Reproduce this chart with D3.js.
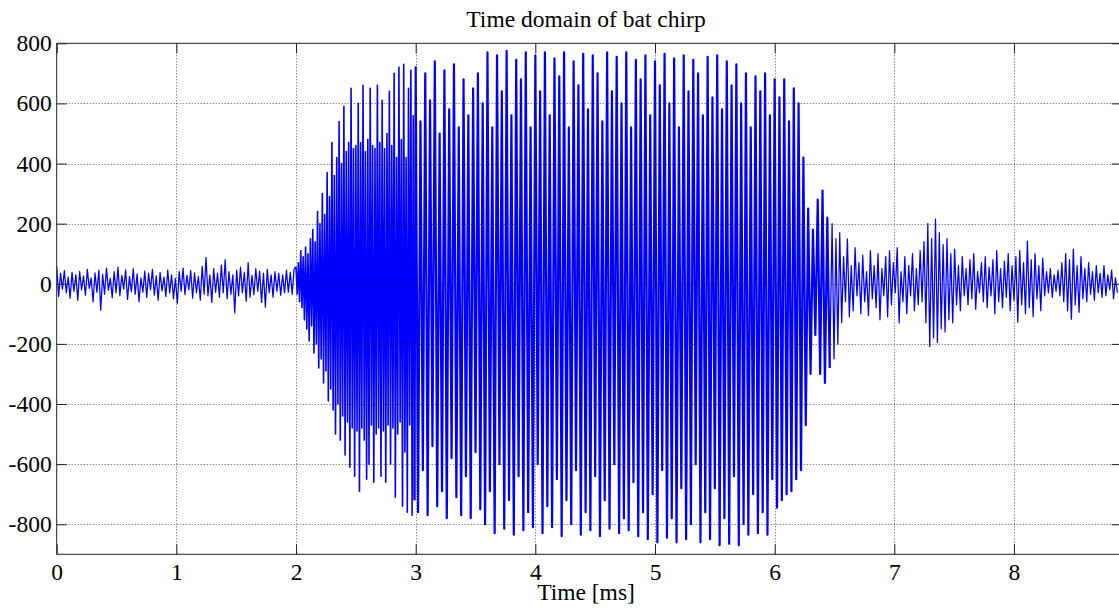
<!DOCTYPE html>
<html>
<head>
<meta charset="utf-8">
<script src="https://cdn.jsdelivr.net/npm/d3@7"></script>
<style>
  html, body { margin: 0; padding: 0; background: #fff; }
  svg { display: block; }
  text { font-family: "Liberation Serif", "Times New Roman", serif; fill: #000; }
</style>
</head>
<body>
<svg id="chart" width="1119" height="611"></svg>
<script>
// Recorded waveform, stored as alternating local maxima / minima per segment.
// Segment start time (ms) and spacing between successive extrema (ms).
const segmentStart = [0, 2.0, 3.0, 6.48];
const segmentStep  = [0.016, 0.01, 0.02, 0.016];

// 0 – 2 ms: background noise before the call
const leadNoise = [
  58,-42,35,-18,44,-30,22,-48,38,-25,
  30,-55,41,-20,26,-38,48,-15,20,-60,
  36,-28,45,-88,31,-35,52,-22,18,-46,
  40,-30,55,-40,28,-18,46,-52,24,-26,
  50,-35,33,-60,20,-28,42,-45,35,-20,
  48,-38,26,-55,38,-24,22,-42,45,-30,
  30,-50,18,-65,40,-25,52,-36,28,-20,
  44,-48,36,-30,25,-55,58,-35,88,-40,
  30,-62,50,-28,35,-45,62,-30,80,-50,
  40,-35,30,-97,45,-40,55,-30,38,-58,
  70,-45,28,-36,50,-25,42,-62,35,-78,
  48,-30,30,-45,40,-25,35,-38,30,-30,
  45,-28,38,-35,50
];

// 2 – 3 ms: onset of the chirp
const chirpOnset = [
  55,-35,70,-60,110,-80,90,-120,122,-150,
  100,-190,150,-140,180,-230,140,-200,240,-280,
  200,-250,300,-330,230,-290,370,-390,290,-350,
  470,-420,360,-500,420,-400,540,-520,400,-440,
  590,-570,440,-460,470,-610,650,-480,450,-640,
  460,-490,600,-690,470,-480,660,-520,440,-650,
  480,-600,650,-470,460,-660,450,-500,660,-480,
  470,-640,610,-490,450,-660,500,-470,640,-600,
  460,-480,700,-710,420,-500,720,-460,480,-740,
  730,-560,420,-760,650,-470,710,-770,560,-720
];

// 3 – 6.46 ms: body of the chirp and its cut-off
const chirpBody = [
  720,-760,540,-620,700,-770,610,-540,740,-740,500,-690,710,-780,580,-580,730,-710,520,-770,
  680,-640,560,-780,650,-560,700,-750,600,-800,770,-690,520,-830,760,-600,640,-815,775,-720,
  560,-835,745,-640,680,-820,770,-760,520,-810,760,-600,640,-830,770,-740,560,-810,750,-650,
  690,-840,770,-720,520,-800,740,-620,660,-835,765,-760,580,-820,760,-640,700,-840,540,-720,
  770,-815,640,-600,755,-830,600,-780,770,-820,520,-660,745,-840,680,-760,760,-850,560,-700,
  740,-860,660,-620,765,-845,600,-780,750,-860,520,-680,760,-850,640,-800,745,-600,700,-860,
  560,-760,755,-850,620,-680,760,-870,580,-780,740,-865,660,-640,730,-870,600,-800,700,-835,
  520,-700,690,-830,640,-760,700,-835,560,-650,680,-745,620,-720,680,-700,540,-690,650,-650,
  600,-620,420,-470,250,-300,180,-170,280,-300,310,-330,220,-280
];

// 6.48 – 8.86 ms: echoes and trailing noise
const tailNoise = [
  200,-250,150,-200,170,-130,90,-60,149,-110,60,-90,120,-40,70,-100,95,-60,40,-106,
  110,-50,60,-80,100,-120,50,-40,90,-110,110,-70,70,-30,120,-130,40,-60,90,-100,
  60,-40,100,-90,50,-70,110,-60,140,-130,200,-209,150,-180,215,-195,170,-150,130,-160,
  150,-120,100,-130,115,-70,60,-90,90,-40,50,-70,80,-50,100,-85,40,-30,70,-60,
  90,-80,55,-40,80,-100,110,-60,50,-80,75,-45,100,-90,60,-55,90,-128,110,-70,
  70,-100,142,-80,80,-110,100,-50,60,-90,85,-40,40,-30,50,-45,30,-25,45,-40,
  70,-60,100,-90,80,-118,115,-70,60,-95,90,-50,50,-60,70,-35,40,-55,60,-30,
  35,-45,60,-40,30,-20,45,-50,20,-30
];

const segments = [leadNoise, chirpOnset, chirpBody, tailNoise];
// trace width for each segment (the chirp strokes are packed more densely)
const segmentWidth = [1.25, 1.6, 2.2, 1.25];

// Axis ticks
const xTicks = [0, 1, 2, 3, 4, 5, 6, 7, 8];
const yTicks = [-800, -600, -400, -200, 0, 200, 400, 600, 800];

const chartTitle = "Time domain of bat chirp";
const xLabel = "Time [ms]";

const svg = d3.select("#chart");
const plotLeft = 56.7, plotTop = 43.3, plotBottom = 554.3;
const pxPerMs = 119.66;
const xMax = 8.9;

const x = d3.scaleLinear().domain([0, xMax]).range([plotLeft, plotLeft + xMax * pxPerMs]);
const y = d3.scaleLinear().domain([-900, 800]).range([plotBottom, plotTop]);
const plotRight = x.range()[1];

// one point list per segment, each joined to the last point of the previous one
const segmentPoints = [];
segments.forEach((vals, s) => {
  const pts = vals.map((v, i) => [segmentStart[s] + i * segmentStep[s], v]);
  if (s > 0) {
    const prev = segmentPoints[s - 1];
    pts.unshift(prev[prev.length - 1]);
  }
  segmentPoints.push(pts);
});

svg.append("rect").attr("width", 1119).attr("height", 611).attr("fill", "#fff");

svg.append("defs").append("clipPath").attr("id", "plotClip")
  .append("rect").attr("x", plotLeft).attr("y", plotTop)
  .attr("width", plotRight - plotLeft).attr("height", plotBottom - plotTop);

// waveform
const line = d3.line().x(d => x(d[0])).y(d => y(d[1]));
svg.append("g").attr("clip-path", "url(#plotClip)")
  .selectAll("path").data(segmentPoints).join("path")
  .attr("fill", "none")
  .attr("stroke", "#0000ff")
  .attr("stroke-width", (d, i) => segmentWidth[i])
  .attr("stroke-linejoin", "round")
  .attr("d", line);

// dotted grid on top of the trace
const grid = svg.append("g").attr("stroke", "#222").attr("stroke-width", 1)
  .attr("stroke-dasharray", "1,2").attr("opacity", 0.75);
grid.selectAll("line.gx").data(xTicks.filter(t => t > 0)).join("line")
  .attr("x1", d => Math.round(x(d)) + 0.5).attr("x2", d => Math.round(x(d)) + 0.5)
  .attr("y1", plotTop).attr("y2", plotBottom);
grid.selectAll("line.gy").data(yTicks.filter(t => t < 800)).join("line")
  .attr("x1", plotLeft).attr("x2", plotRight)
  .attr("y1", d => Math.round(y(d)) + 0.5).attr("y2", d => Math.round(y(d)) + 0.5);

// axes with inward ticks on all four sides
const fontSize = "23.5px";
const axB = svg.append("g").attr("transform", `translate(0,${plotBottom})`)
  .call(d3.axisBottom(x).tickValues(xTicks).tickSize(-10).tickPadding(9).tickFormat(d => String(d)));
const axL = svg.append("g").attr("transform", `translate(${plotLeft},0)`)
  .call(d3.axisLeft(y).tickValues(yTicks).tickSize(-10).tickPadding(5).tickFormat(d => String(d)));
const axT = svg.append("g").attr("transform", `translate(0,${plotTop})`)
  .call(d3.axisTop(x).tickValues(xTicks).tickSize(-10).tickFormat(""));
const axR = svg.append("g").attr("transform", `translate(${plotRight},0)`)
  .call(d3.axisRight(y).tickValues(yTicks).tickSize(-10).tickFormat(""));

[axB, axL, axT, axR].forEach(a => {
  a.select(".domain").remove();
  a.selectAll(".tick line").attr("stroke", "#222");
  a.selectAll("text").attr("font-size", fontSize).attr("font-family", "Liberation Serif").attr("fill", "#000");
});

svg.append("rect")
  .attr("x", plotLeft).attr("y", plotTop).attr("width", plotRight - plotLeft).attr("height", plotBottom - plotTop)
  .attr("fill", "none").attr("stroke", "#222").attr("stroke-width", 1);

svg.append("text").attr("x", 586).attr("y", 27).attr("text-anchor", "middle")
  .attr("font-size", fontSize).text(chartTitle);
svg.append("text").attr("x", 586).attr("y", 600).attr("text-anchor", "middle")
  .attr("font-size", fontSize).text(xLabel);
</script>
</body>
</html>
